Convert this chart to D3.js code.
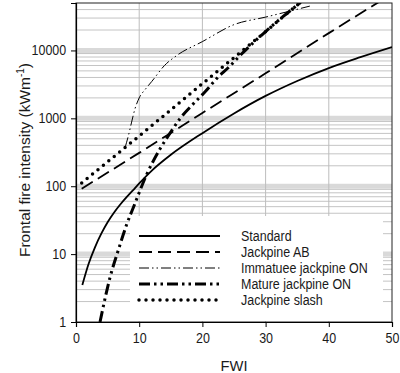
<!DOCTYPE html>
<html>
<head>
<meta charset="utf-8">
<script src="https://cdn.jsdelivr.net/npm/d3@7"></script>
<style>
  body { margin: 0; background: #fff; }
  svg { display: block; font-family: "Liberation Sans", Arial, sans-serif; }
</style>
</head>
<body>
<div id="chart"></div>
<script>
// FWI vs frontal fire intensity
const xTicks = [0, 10, 20, 30, 40, 50];
const yTicks = [1, 10, 100, 1000, 10000];

const standardFWI = [1, 2, 3, 4, 5, 6, 7, 8, 9, 10, 12, 15, 20, 25, 30, 35, 40, 45, 50];
const standardI = [3.5, 7.2, 12.6, 20, 29.5, 40.7, 53.7, 69, 87, 110, 170, 290, 605, 1180, 2140, 3550, 5500, 7950, 11200];

const abFWI = [0.9, 10, 20, 30, 40, 50];
const abI = [92, 310, 1200, 4600, 18000, 68000];

const immatureFWI = [7.8, 8.3, 8.8, 9.3, 10, 11, 12, 14, 16, 20, 25, 30, 37];
const immatureI = [380, 560, 880, 1350, 2000, 2700, 3500, 6000, 8500, 13500, 24000, 31000, 45000];

const matureFWI = [3.8, 5.4, 6.7, 8, 9.2, 11.2, 13.3, 15, 16.5, 18.6, 20.5, 22.3, 24.2, 26, 30, 35, 36];
const matureI = [1, 4.6, 11.5, 27, 52, 150, 355, 630, 1000, 1650, 2500, 3900, 5700, 8500, 19000, 46500, 55000];

const slashFWI = [0.9, 10, 20, 30, 35, 36];
const slashI = [112, 550, 3240, 19000, 46500, 55000];

const seriesNames = ["Standard", "Jackpine AB", "Immatuee jackpine ON", "Mature jackpine ON", "Jackpine slash"];

const W = 400, H = 373;
const plotLeft = 76, plotRight = 392, plotTop = 3, plotBottom = 322;
const squeeze = 0.89; // the original figure's lettering is a little narrow

const svg = d3.select("#chart").append("svg")
    .attr("width", W)
    .attr("height", H);

const x = d3.scaleLinear().domain([0, 50]).range([plotLeft, plotRight]);
const y = d3.scaleLog().domain([1, 50000]).range([plotBottom, plotTop]);

// line styles per series
const styles = [
    {width: 1.8, dash: null, cap: "butt"},
    {width: 1.8, dash: "13,6", cap: "butt"},
    {width: 1, dash: "10,3,1.5,3,1.5,3", cap: "butt"},
    {width: 3, dash: "11,4,2.5,4,2.5,4", cap: "butt"},
    {width: 3.5, dash: "0,7", cap: "round"}
];

const series = [
    {fwi: standardFWI, val: standardI},
    {fwi: abFWI, val: abI},
    {fwi: immatureFWI, val: immatureI},
    {fwi: matureFWI, val: matureI},
    {fwi: slashFWI, val: slashI}
];

// grid: minor horizontal lines
const minor = [];
[1, 10, 100, 1000, 10000].forEach(d => {
    for (let k = 2; k <= 9; k++) {
        if (d * k < 50000) minor.push(d * k);
    }
});

const grid = svg.append("g");
grid.selectAll(".minor")
    .data(minor)
    .join("line")
    .attr("x1", plotLeft).attr("x2", plotRight)
    .attr("y1", d => y(d)).attr("y2", d => y(d))
    .attr("stroke", "#c4c4c4")
    .attr("stroke-width", 1);

// decade bands
grid.selectAll(".major")
    .data([10, 100, 1000, 10000])
    .join("line")
    .attr("x1", plotLeft).attr("x2", plotRight)
    .attr("y1", d => y(d)).attr("y2", d => y(d))
    .attr("stroke", "#d9d9d9")
    .attr("stroke-width", 5);

grid.selectAll(".vgrid")
    .data([10, 20, 30, 40])
    .join("line")
    .attr("x1", d => x(d)).attr("x2", d => x(d))
    .attr("y1", plotTop).attr("y2", plotBottom)
    .attr("stroke", "#bdbdbd")
    .attr("stroke-width", 1);

// legend background hides the grid
svg.append("rect")
    .attr("x", 130).attr("y", 216)
    .attr("width", 253).attr("height", 105)
    .attr("fill", "#fff");

// frame
svg.append("rect")
    .attr("x", plotLeft).attr("y", plotTop)
    .attr("width", plotRight - plotLeft).attr("height", plotBottom - plotTop)
    .attr("fill", "none")
    .attr("stroke", "#222")
    .attr("stroke-width", 1);

svg.append("clipPath").attr("id", "clip")
    .append("rect")
    .attr("x", plotLeft).attr("y", plotTop)
    .attr("width", plotRight - plotLeft).attr("height", plotBottom - plotTop);

const line = d3.line()
    .x(d => x(d[0]))
    .y(d => y(d[1]))
    .curve(d3.curveMonotoneX);

svg.append("g")
    .attr("clip-path", "url(#clip)")
    .selectAll("path")
    .data(series)
    .join("path")
    .attr("d", s => line(s.fwi.map((f, i) => [f, s.val[i]])))
    .attr("fill", "none")
    .attr("stroke", "#000")
    .attr("stroke-width", (s, i) => styles[i].width)
    .attr("stroke-dasharray", (s, i) => styles[i].dash)
    .attr("stroke-linecap", (s, i) => styles[i].cap);

// axes
const xAxis = svg.append("g")
    .attr("transform", `translate(0,${plotBottom})`)
    .call(d3.axisBottom(x).tickValues(xTicks).tickSize(5).tickPadding(6).tickFormat(d3.format("d")));
const yAxis = svg.append("g")
    .attr("transform", `translate(${plotLeft},0)`)
    .call(d3.axisLeft(y).tickValues(yTicks).tickSize(5).tickPadding(6).tickFormat(d3.format("d")));

[xAxis, yAxis].forEach(a => {
    a.select(".domain").attr("stroke", "#000").attr("stroke-width", 1.2);
    a.selectAll(".tick line").attr("stroke", "#000");
    a.selectAll("text")
        .attr("font-size", 14)
        .attr("font-family", "Liberation Sans, Arial, sans-serif")
        .attr("fill", "#1a1a1a")
        .attr("transform", `scale(${squeeze},1)`);
});

// axis titles
svg.append("text")
    .attr("transform", `translate(${(plotLeft + plotRight) / 2},371) scale(0.95,1)`)
    .attr("text-anchor", "middle")
    .attr("font-size", 15.5)
    .attr("fill", "#1a1a1a")
    .text("FWI");

const yTitle = svg.append("text")
    .attr("transform", `translate(30,160) rotate(-90)`)
    .attr("text-anchor", "middle")
    .attr("font-size", 15.5)
    .attr("fill", "#1a1a1a");
yTitle.append("tspan").text("Frontal fire intensity (kWm");
yTitle.append("tspan").attr("dy", -6).attr("font-size", 10).text("-1");
yTitle.append("tspan").attr("dy", 6).text(")");

// legend
const legend = svg.append("g");
const rows = legend.selectAll("g")
    .data(seriesNames)
    .join("g")
    .attr("transform", (d, i) => `translate(0,${236 + i * 16})`);

rows.append("line")
    .attr("x1", 139).attr("x2", 220)
    .attr("stroke", "#000")
    .attr("stroke-width", (d, i) => styles[i].width)
    .attr("stroke-dasharray", (d, i) => styles[i].dash)
    .attr("stroke-linecap", (d, i) => styles[i].cap);

rows.append("text")
    .attr("transform", `translate(241,5) scale(${squeeze},1)`)
    .attr("font-size", 14)
    .attr("fill", "#1a1a1a")
    .text(d => d);
</script>
</body>
</html>
